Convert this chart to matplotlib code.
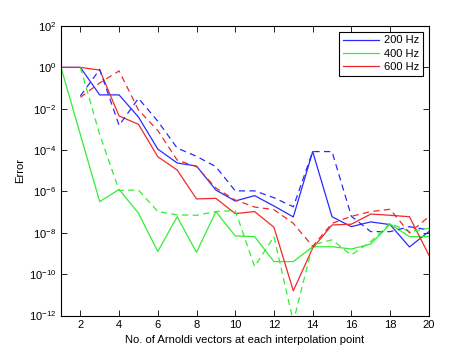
import matplotlib
matplotlib.use("Agg")
import matplotlib.pyplot as plt
import numpy as np

plt.rcParams["font.family"] = ["Liberation Sans", "DejaVu Sans"]
plt.rcParams["mathtext.default"] = "regular"

# log10 of the error
n_vetores = list(range(1, 21))
n_vetores_tracejado = list(range(2, 21))

log_200_cheio = [0, 0, -1.33, -1.33, -2.4, -3.95, -4.62, -4.77, -5.93, -6.46,
                 -6.2, -6.7, -7.23, -4.07, -7.22, -7.7, -7.47, -7.6, -8.68, -7.94]
log_400_cheio = [0, -3.25, -6.49, -5.9, -7.05, -8.9, -7.22, -8.94, -6.97, -8.15,
                 -8.18, -9.39, -9.39, -8.67, -8.67, -8.78, -8.54, -7.58, -8.18, -8.18]
log_600_cheio = [0, 0, -0.13, -2.35, -2.75, -4.32, -4.96, -6.36, -6.33, -7.07,
                 -6.97, -7.73, -10.8, -8.74, -7.62, -7.58, -7.09, -7.15, -7.22, -9.07]

log_200_tracejado = [-1.38, -0.1, -2.8, -1.5, -2.6, -3.9, -4.3, -4.8, -5.97, -5.97,
                     -6.3, -6.74, -4.07, -4.07, -7.2, -7.94, -7.94, -7.7, -7.86]
log_400_tracejado = [0, -3.25, -5.95, -5.93, -6.97, -7.13, -7.15, -6.97, -6.92, -9.63,
                     -8.18, -12.3, -8.58, -8.34, -9.07, -8.42, -7.54, -7.94, -7.78]
log_600_tracejado = [-1.45, -0.75, -0.17, -2.06, -3.05, -4.48, -4.8, -5.83, -6.41, -6.75,
                     -6.88, -7.54, -8.65, -7.54, -7.2, -6.97, -6.86, -8.0, -7.22]

rotulos = ["200 Hz", "400 Hz", "600 Hz"]
cores = ["#2a2aff", "#33ee33", "#ee2a2a"]

fig = plt.figure(figsize=(4.74, 3.55), dpi=100)
ax = fig.add_axes([0.1287, 0.111, 0.776, 0.8157])

cheios = [log_200_cheio, log_400_cheio, log_600_cheio]
tracejados = [log_200_tracejado, log_400_tracejado, log_600_tracejado]

for rotulo, cor, cheio in zip(rotulos, cores, cheios):
    ax.semilogy(n_vetores, 10.0 ** np.array(cheio), color=cor, lw=0.9, label=rotulo)

for cor, tracejado in zip(cores, tracejados):
    ax.semilogy(n_vetores_tracejado, 10.0 ** np.array(tracejado), color=cor, lw=0.9,
                ls=(0, (5, 3.5)))

ax.set_xlim(1, 20)
ax.set_ylim(1e-12, 1e2)
ax.set_xticks(range(2, 21, 2))
ax.set_yticks([10.0 ** k for k in range(-12, 3, 2)])
ax.minorticks_off()
ax.tick_params(direction="in", top=True, right=True, labelsize=8, length=4, width=0.6)
for lado in ax.spines.values():
    lado.set_linewidth(0.8)

ax.set_xlabel("No. of Arnoldi vectors at each interpolation point", fontsize=8.1, labelpad=3)
ax.set_ylabel("Error", fontsize=8.1, labelpad=3)

leg = ax.legend(loc="upper right", fontsize=8, fancybox=False, framealpha=1,
                edgecolor="black", handlelength=3.2, handletextpad=0.5,
                borderaxespad=0.5, labelspacing=0.3, borderpad=0.35)
leg.get_frame().set_linewidth(0.8)

fig.savefig("out.png", dpi=100)
